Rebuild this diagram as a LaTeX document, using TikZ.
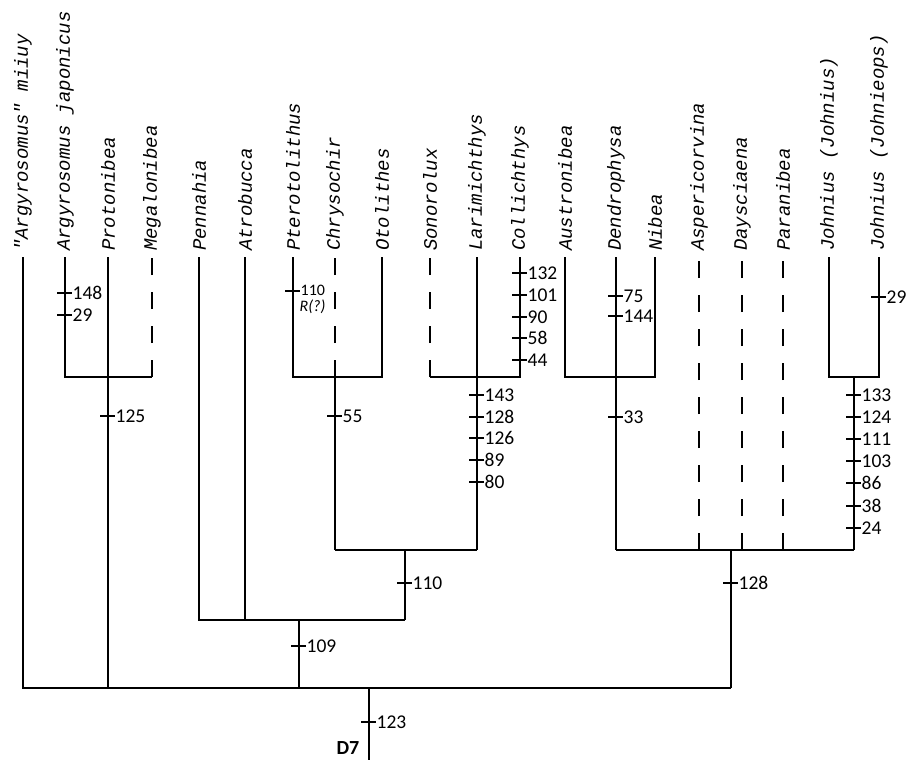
\documentclass[tikz,border=0pt]{standalone}
\usepackage{fontspec}
\newfontfamily\taxfont{Liberation Mono}
\newfontfamily\numfont{Carlito}
\begin{document}
\begin{tikzpicture}[x=1pt,y=-1pt,
  branch/.style={line width=1.9pt},
  dashbranch/.style={line width=1.9pt, dash pattern=on 17pt off 17pt},
  taxon/.style={rotate=90, anchor=west, inner sep=1pt, font=\taxfont\itshape\fontsize{19}{20}\selectfont},
  num/.style={anchor=west, inner sep=0.5pt, font=\numfont\fontsize{19.5}{20}\selectfont},
  smallnum/.style={anchor=west, inner sep=0.5pt, font=\numfont\fontsize{16}{17}\selectfont},
  tickmark/.style={line width=1.2pt}]
\useasboundingbox (0,0) rectangle (906,760);

% taxon labels
\node[taxon] (t1) at (23,252) {"Argyrosomus" miiuy};
\node[taxon] (t2) at (65,252) {Argyrosomus japonicus};
\node[taxon] (t3) at (108,252) {Protonibea};
\node[taxon] (t4) at (152,252) {Megalonibea};
\node[taxon] (t5) at (199,252) {Pennahia};
\node[taxon] (t6) at (245,252) {Atrobucca};
\node[taxon] (t7) at (293,252) {Pterotolithus};
\node[taxon] (t8) at (335,252) {Chrysochir};
\node[taxon] (t9) at (382,252) {Otolithes};
\node[taxon] (t10) at (430,252) {Sonorolux};
\node[taxon] (t11) at (477,252) {Larimichthys};
\node[taxon] (t12) at (520,252) {Collichthys};
\node[taxon] (t13) at (565,252) {Austronibea};
\node[taxon] (t14) at (616,252) {Dendrophysa};
\node[taxon] (t15) at (655,252) {Nibea};
\node[taxon] (t16) at (699,252) {Aspericorvina};
\node[taxon] (t17) at (742,252) {Daysciaena};
\node[taxon] (t18) at (783,252) {Paranibea};
\node[taxon] (t19) at (829,252) {Johnius (Johnius)};
\node[taxon] (t20) at (879,252) {Johnius (Johnieops)};

% line tops
\foreach \i/\x in {1/23,2/65,3/108,4/152,5/199,6/245,7/293,8/335,9/382,10/430,11/477,12/520,13/565,14/616,15/655,16/699,17/742,18/783,19/829,20/879}
  \coordinate (top\i) at (\x,257);

% junction coordinates
\coordinate (jA) at (108,377);
\coordinate (jB) at (335,377);
\coordinate (jC) at (477,377);
\coordinate (jD) at (616,377);
\coordinate (jE) at (854,377);
\coordinate (jF) at (405,550);
\coordinate (jG) at (731,550);
\coordinate (jH) at (299,620);
\coordinate (jR) at (369,688);
\coordinate (root) at (369,760);

% left trichotomy
\draw[branch] (top2) -- (65,377) -- (152,377);
\draw[dashbranch] (152,377) -- (top4);
\draw[branch] (top3) -- (108,688);

% Pterotolithus group
\draw[branch] (top7) -- (293,377) -- (382,377) -- (top9);
\draw[dashbranch] (jB) -- (top8);
\draw[branch] (jB) -- (335,550);

% Sonorolux group
\draw[dashbranch] (430,377) -- (top10);
\draw[branch] (430,377) -- (520,377) -- (top12);
\draw[branch] (top11) -- (477,550);

% Austronibea group
\draw[branch] (top13) -- (565,377) -- (655,377) -- (top15);
\draw[branch] (top14) -- (616,550);

% dashed genera
\draw[dashbranch] (699,550) -- (top16);
\draw[dashbranch] (742,550) -- (top17);
\draw[dashbranch] (783,550) -- (top18);

% Johnius
\draw[branch] (top19) -- (829,377) -- (879,377) -- (top20);
\draw[branch] (jE) -- (854,550);

% lower bars
\draw[branch] (335,550) -- (477,550);
\draw[branch] (jF) -- (405,620);
\draw[branch] (616,550) -- (854,550);
\draw[branch] (jG) -- (731,688);
\draw[branch] (top5) -- (199,620) -- (405,620);
\draw[branch] (top6) -- (245,620);
\draw[branch] (jH) -- (299,688);
\draw[branch] (top1) -- (23,688) -- (731,688);
\draw[branch] (jR) -- (root);

% character ticks
\foreach \x/\y/\t in {65/293/148, 65/315/29, 108/416/125, 335/416/55,
  520/273/132, 520/295/101, 520/317/90, 520/338/58, 520/360/44,
  477/395/143, 477/417/128, 477/438/126, 477/460/89, 477/482/80,
  616/296/75, 616/316/144, 616/417/33, 879/297/29,
  854/395/133, 854/417/124, 854/439/111, 854/461/103, 854/483/86, 854/506/38, 854/528/24,
  405/583/110, 731/583/128, 299/646/109, 369/722/123} {
  \draw[tickmark] (\x-8,\y) -- (\x+7,\y);
  \node[num] (c\x-\y) at (\x+7,\y) {\t};
}
\draw[tickmark] (285,291) -- (300,291);
\node[smallnum] (c293a) at (300,290) {110};
\node[smallnum] (c293b) at (299,307) {\itshape R(?)};

\node[font=\numfont\bfseries\fontsize{20}{21}\selectfont, inner sep=0pt] (d7) at (348,748) {D7};
\end{tikzpicture}
\end{document}
